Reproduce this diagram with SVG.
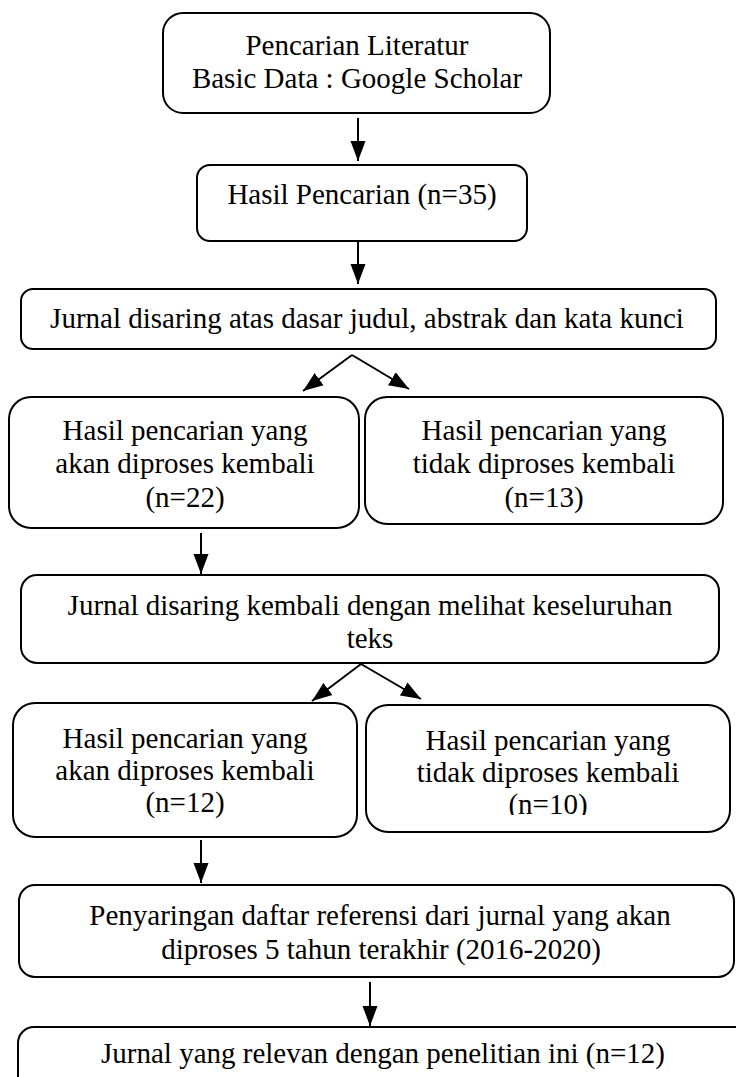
<svg xmlns="http://www.w3.org/2000/svg" width="736" height="1077" viewBox="0 0 736 1077">
<style>
.box{fill:#fff;stroke:#000;stroke-width:2}
.t{font-family:"Liberation Serif","Times New Roman",serif;font-size:29px;fill:#000;text-anchor:middle}
.c{stroke:#000;stroke-width:2;fill:none;marker-end:url(#ah)}
</style>
<defs>
<marker id="ah" markerUnits="userSpaceOnUse" markerWidth="20" markerHeight="16" refX="20" refY="7.5" orient="auto" viewBox="0 0 20 15">
<path d="M0,0 L20,7.5 L0,15 z" fill="#000"/>
</marker>
<clipPath id="clip13"><rect x="365" y="397" width="360" height="116"/></clipPath>
<clipPath id="clip10"><rect x="366" y="705" width="366" height="110"/></clipPath>
</defs>
<rect width="736" height="1077" fill="#fff"/>
<g id="n1"><rect class="box" x="163" y="13" width="387" height="100" rx="20"/>
<text class="t" x="357" y="55">Pencarian Literatur</text>
<text class="t" x="357" y="88">Basic Data : Google Scholar</text></g>
<g id="n2"><rect class="box" x="197" y="165" width="330" height="76" rx="13"/>
<text class="t" x="362" y="204">Hasil Pencarian (n=35)</text></g>
<g id="n3"><rect class="box" x="21" y="289" width="695" height="60" rx="12"/>
<text class="t" x="367" y="328">Jurnal disaring atas dasar judul, abstrak dan kata kunci</text></g>
<g id="n4"><rect class="box" x="9" y="397" width="350" height="131" rx="22"/>
<text class="t" x="185" y="440">Hasil pencarian yang</text>
<text class="t" x="185" y="473">akan diproses kembali</text>
<text class="t" x="185" y="507">(n=22)</text></g>
<g id="n5"><rect class="box" x="365" y="397" width="358" height="127" rx="22"/>
<g clip-path="url(#clip13)">
<text class="t" x="544" y="440">Hasil pencarian yang</text>
<text class="t" x="544" y="473">tidak diproses kembali</text>
<text class="t" x="544" y="507">(n=13)</text></g></g>
<g id="n6"><rect class="box" x="21" y="575" width="698" height="88" rx="16"/>
<text class="t" x="370" y="615">Jurnal disaring kembali dengan melihat keseluruhan</text>
<text class="t" x="370" y="648">teks</text></g>
<g id="n7"><rect class="box" x="13" y="703" width="344" height="134" rx="22"/>
<text class="t" x="185" y="748">Hasil pencarian yang</text>
<text class="t" x="185" y="780">akan diproses kembali</text>
<text class="t" x="185" y="812">(n=12)</text></g>
<g id="n8"><rect class="box" x="366" y="705" width="364" height="127" rx="22"/>
<g clip-path="url(#clip10)">
<text class="t" x="548" y="750">Hasil pencarian yang</text>
<text class="t" x="548" y="782">tidak diproses kembali</text>
<text class="t" x="548" y="814">(n=10)</text></g></g>
<g id="n9"><rect class="box" x="19" y="885" width="715" height="92" rx="16"/>
<text class="t" x="380" y="925">Penyaringan daftar referensi dari jurnal yang akan</text>
<text class="t" x="381" y="959">diproses 5 tahun terakhir (2016-2020)</text></g>
<g id="n10"><rect class="box" x="18" y="1027" width="740" height="80" rx="16"/>
<text class="t" x="383" y="1063">Jurnal yang relevan dengan penelitian ini (n=12)</text></g>
<g id="connectors">
<line class="c" x1="358" y1="118" x2="358" y2="161"/>
<line class="c" x1="358" y1="241" x2="358" y2="284"/>
<line class="c" x1="352" y1="355" x2="303" y2="391"/>
<line class="c" x1="352" y1="355" x2="409" y2="389"/>
<line class="c" x1="201" y1="533" x2="201" y2="574"/>
<line class="c" x1="361" y1="664" x2="312" y2="701"/>
<line class="c" x1="361" y1="664" x2="421" y2="699"/>
<line class="c" x1="201" y1="840" x2="201" y2="883"/>
<line class="c" x1="370" y1="982" x2="370" y2="1026"/>
</g>
</svg>
